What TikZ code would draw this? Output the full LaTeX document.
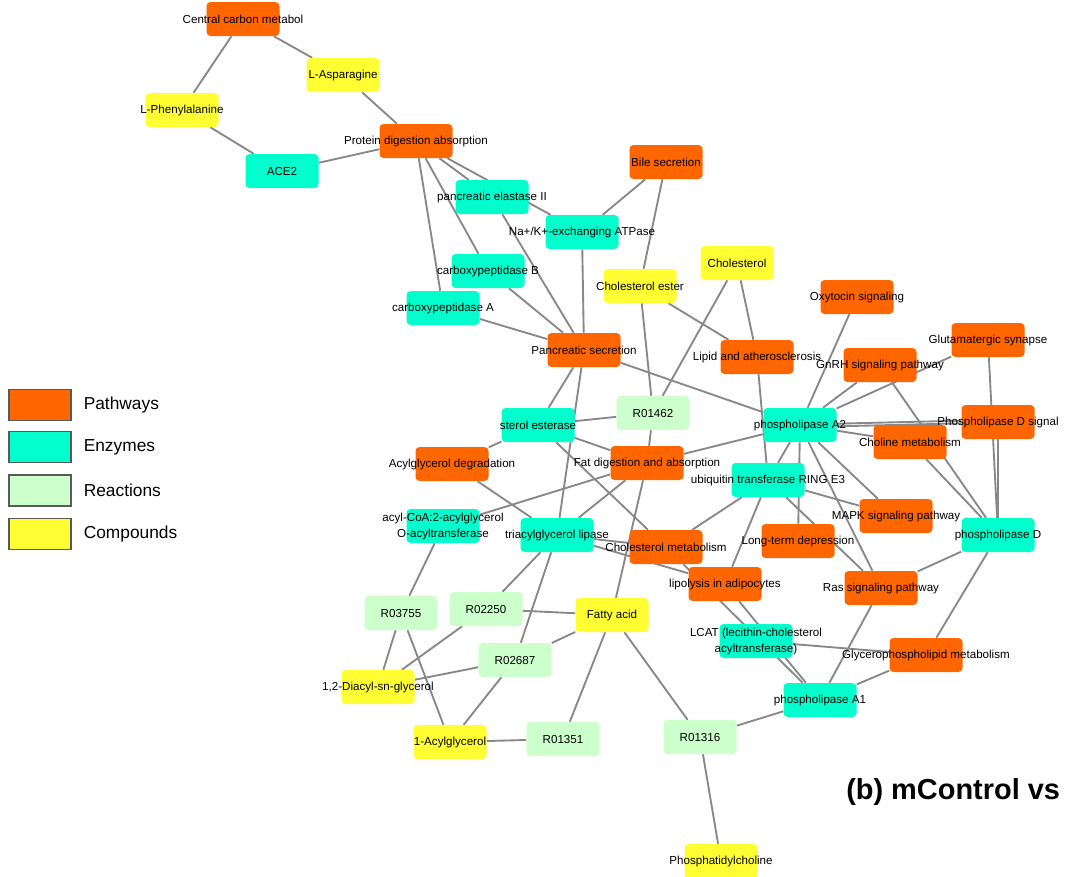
\documentclass[tikz,border=0pt]{standalone}
\usepackage{fontspec}
\setmainfont{Liberation Sans}
\usepackage{xcolor}
\usepackage{tikz}
\usetikzlibrary{positioning,backgrounds}
\definecolor{cPath}{HTML}{FF6600}
\definecolor{cEnz}{HTML}{00FFCC}
\definecolor{cReac}{HTML}{CCFFCC}
\definecolor{cComp}{HTML}{FFFF33}
\definecolor{cEdge}{HTML}{888888}
\newcommand{\nlbl}[1]{\makebox[0pt]{#1}}
\newcommand{\nlbll}[2]{\makebox[0pt]{\begin{tabular}{@{}c@{}}#1\\#2\end{tabular}}}

\begin{document}
\begin{tikzpicture}[
  x=0.75pt,y=-0.75pt,
  n/.style={rounded corners=3pt,minimum width=54.75pt,minimum height=25.5pt,
            inner sep=0pt,font=\fontsize{8.7}{12.5}\selectfont},
  pw/.style={n,fill=cPath},
  en/.style={n,fill=cEnz},
  rx/.style={n,fill=cReac},
  cp/.style={n,fill=cComp},
  ln/.style={draw=cEdge,line width=1.4pt},
  key/.style={draw=black!65,line width=0.8pt,minimum width=46.5pt,minimum height=23.25pt,
              inner sep=0pt},
  keytxt/.style={inner sep=0pt,font=\fontsize{13}{15}\selectfont},
  ]
  \clip (0,0) rectangle (1065,876);

  % legend
  \node[key,fill=cPath] (kPath) at (40,405) {};
  \node[key,fill=cEnz,below=7.5pt of kPath] (kEnz) {};
  \node[key,fill=cReac,below=8.5pt of kEnz] (kReac) {};
  \node[key,fill=cComp,below=8.5pt of kReac] (kComp) {};
  \node[keytxt,right=9pt of kPath] (tPath) {Pathways};
  \node[keytxt,right=9pt of kEnz] (tEnz) {Enzymes};
  \node[keytxt,right=9pt of kReac] (tReac) {Reactions};
  \node[keytxt,right=9pt of kComp] (tComp) {Compounds};

  % network
  \node[pw] (ccm) at (243,19) {\nlbl{Central carbon metabol}};
  \node[cp] (asn) at (343,75) {\nlbl{L-Asparagine}};
  \node[cp] (phe) at (182,110) {\nlbl{L-Phenylalanine}};
  \node[en] (ace) at (282,171) {\nlbl{ACE2}};
  \node[pw] (pda) at (416,141) {\nlbl{Protein digestion absorption}};
  \node[en] (pe2) at (492,197) {\nlbl{pancreatic elastase II}};
  \node[pw] (bile) at (666,162) {\nlbl{Bile secretion}};
  \node[en] (nak) at (582,232) {\nlbl{Na+/K+-exchanging ATPase}};
  \node[en] (cpb) at (488,271) {\nlbl{carboxypeptidase B}};
  \node[en] (cpa) at (443,308) {\nlbl{carboxypeptidase A}};
  \node[cp] (ce) at (640,286) {\nlbl{Cholesterol ester}};
  \node[cp] (chol) at (737,263) {\nlbl{Cholesterol}};
  \node[pw] (oxy) at (857,297) {\nlbl{Oxytocin signaling}};
  \node[pw] (ps) at (584,350) {\nlbl{Pancreatic secretion}};
  \node[pw] (lip) at (757,357) {\nlbl{Lipid and atherosclerosis}};
  \node[pw] (gnrh) at (880,365) {\nlbl{GnRH signaling pathway}};
  \node[pw] (glu) at (988,340) {\nlbl{Glutamatergic synapse}};
  \node[rx] (r01462) at (653,413) {\nlbl{R01462}};
  \node[en] (se) at (538,425) {\nlbl{sterol esterase}};
  \node[en] (pla2) at (800,425) {\nlbl{phospholipase A2}};
  \node[pw] (pldsig) at (998,422) {\nlbl{Phospholipase D signal}};
  \node[pw] (chm) at (910,442) {\nlbl{Choline metabolism}};
  \node[pw] (agd) at (452,464) {\nlbl{Acylglycerol degradation}};
  \node[pw] (fda) at (647,463) {\nlbl{Fat digestion and absorption}};
  \node[en] (ubq) at (768,480) {\nlbl{ubiquitin transferase RING E3}};
  \node[en] (acat) at (443,526) {\nlbll{acyl-CoA:2-acylglycerol}{O-acyltransferase}};
  \node[en] (tgl) at (557,535) {\nlbl{triacylglycerol lipase}};
  \node[pw] (mapk) at (896,516) {\nlbl{MAPK signaling pathway}};
  \node[en] (pld) at (998,535) {\nlbl{phospholipase D}};
  \node[pw] (ltd) at (798,541) {\nlbl{Long-term depression}};
  \node[pw] (chmet) at (666,547) {\nlbl{Cholesterol metabolism}};
  \node[pw] (lipo) at (725,584) {\nlbl{lipolysis in adipocytes}};
  \node[pw] (ras) at (881,588) {\nlbl{Ras signaling pathway}};
  \node[rx] (r03755) at (401,613) {\nlbl{R03755}};
  \node[rx] (r02250) at (486,609) {\nlbl{R02250}};
  \node[cp] (fa) at (612,615) {\nlbl{Fatty acid}};
  \node[en] (lcat) at (756,641) {\nlbll{LCAT (lecithin-cholesterol}{acyltransferase)}};
  \node[pw] (gpm) at (926,655) {\nlbl{Glycerophospholipid metabolism}};
  \node[rx] (r02687) at (515,660) {\nlbl{R02687}};
  \node[cp] (dag) at (378,687) {\nlbl{1,2-Diacyl-sn-glycerol}};
  \node[en] (pla1) at (820,700) {\nlbl{phospholipase A1}};
  \node[cp] (mag) at (450,742) {\nlbl{1-Acylglycerol}};
  \node[rx] (r01351) at (563,739) {\nlbl{R01351}};
  \node[rx] (r01316) at (700,737) {\nlbl{R01316}};
  \node[cp] (pc) at (721,861) {\nlbl{Phosphatidylcholine}};

  \node[anchor=base west,inner sep=0pt,font=\bfseries\fontsize{21.7}{26}\selectfont]
    (ttl) at (846,799) {(b) mControl vs};

  \begin{scope}[on background layer]
  \draw[ln] (ccm) -- (phe);
  \draw[ln] (ccm) -- (asn);
  \draw[ln] (phe) -- (ace);
  \draw[ln] (asn) -- (pda);
  \draw[ln] (ace) -- (pda);
  \draw[ln] (pda) -- (pe2);
  \draw[ln] (pda) -- (nak);
  \draw[ln] (pda) -- (cpb);
  \draw[ln] (pda) -- (cpa);
  \draw[ln] (pe2) -- (ps);
  \draw[ln] (cpb) -- (ps);
  \draw[ln] (cpa) -- (ps);
  \draw[ln] (nak) -- (ps);
  \draw[ln] (nak) -- (bile);
  \draw[ln] (bile) -- (ce);
  \draw[ln] (ce) -- (lip);
  \draw[ln] (ce) -- (r01462);
  \draw[ln] (chol) -- (r01462);
  \draw[ln] (chol) -- (lip);
  \draw[ln] (lip) -- (ubq);
  \draw[ln] (ps) -- (pla2);
  \draw[ln] (ps) -- (se);
  \draw[ln] (ps) -- (tgl);
  \draw[ln] (oxy) -- (pla2);
  \draw[ln] (gnrh) -- (pla2);
  \draw[ln] (glu) -- (pla2);
  \draw[ln] ([yshift=1pt]pla2.east) -- ([yshift=1pt]pldsig.west);
  \draw[ln] ([yshift=-1pt]pla2.east) -- ([yshift=-1pt]pldsig.west);
  \draw[ln] (pla2) -- (chm);
  \draw[ln] (pla2) -- (ubq);
  \draw[ln] (pla2) -- (ltd);
  \draw[ln] (pla2) -- (mapk);
  \draw[ln] (pla2) -- (ras);
  \draw[ln] (fda) -- (pla2);
  \draw[ln] (gnrh) -- (pld);
  \draw[ln] (chm) -- (pld);
  \draw[ln] (glu) -- (pld);
  \draw[ln] (pldsig) -- (pld);
  \draw[ln] (se) -- (r01462);
  \draw[ln] (se) -- (fda);
  \draw[ln] (se) -- (agd);
  \draw[ln] (se) -- (chmet);
  \draw[ln] (r01462) -- (fda);
  \draw[ln] (fda) -- (acat);
  \draw[ln] (fda) -- (tgl);
  \draw[ln] (fda) -- (fa);
  \draw[ln] (agd) -- (tgl);
  \draw[ln] (tgl) -- (chmet);
  \draw[ln] (tgl) -- (lipo);
  \draw[ln] (tgl) -- (r02250);
  \draw[ln] (tgl) -- (r02687);
  \draw[ln] (ubq) -- (mapk);
  \draw[ln] (ubq) -- (chmet);
  \draw[ln] (ubq) -- (lipo);
  \draw[ln] (ubq) -- (ras);
  \draw[ln] (chmet) -- (pla1);
  \draw[ln] (lipo) -- (pla1);
  \draw[ln] (lcat) -- (gpm);
  \draw[ln] (ras) -- (pla1);
  \draw[ln] (ras) -- (pld);
  \draw[ln] (gpm) -- (pla1);
  \draw[ln] (gpm) -- (pld);
  \draw[ln] (acat) -- (r03755);
  \draw[ln] (r03755) -- (dag);
  \draw[ln] (r03755) -- (mag);
  \draw[ln] (r02250) -- (dag);
  \draw[ln] (r02250) -- (fa);
  \draw[ln] (r02687) -- (fa);
  \draw[ln] (r02687) -- (dag);
  \draw[ln] (r02687) -- (mag);
  \draw[ln] (mag) -- (r01351);
  \draw[ln] (fa) -- (r01351);
  \draw[ln] (fa) -- (r01316);
  \draw[ln] (r01316) -- (pc);
  \draw[ln] (r01316) -- (pla1);
  \end{scope}
\end{tikzpicture}
\end{document}
